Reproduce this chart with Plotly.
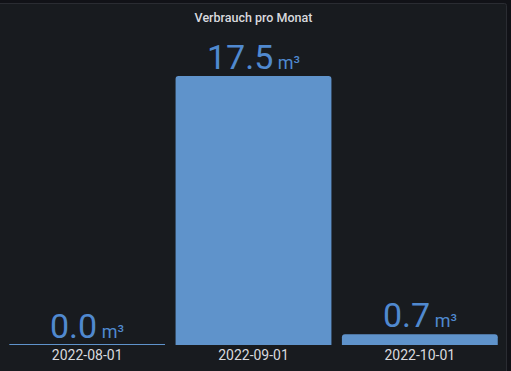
import plotly.graph_objects as go

categories = ["2022-08-01", "2022-09-01", "2022-10-01"]
values = [0.0, 17.5, 0.7]
unit = "m³"
title = "Verbrauch pro Monat"

BAR = "#5f93cb"
TXT = "#5089cf"
LBL = "#d8d9de"
FONT = "Roboto"
W, H = 511, 371
L, R, T, B = 4, 8, 76, 26

def px_x(p):
    return (p - L) / (W - L - R)

def px_y(p):
    return (H - B - p) / (H - T - B)

fig = go.Figure()
fig.add_trace(go.Bar(
    x=categories, y=values,
    marker=dict(color=BAR, line=dict(width=0), cornerradius=3),
    hoverinfo="skip",
))

# baseline for zero-valued bars
for i, v in enumerate(values):
    if v == 0:
        fig.add_shape(type="line", xref="x", yref="y",
                      x0=i - 0.468, x1=i + 0.468,
                      ysizemode="pixel", yanchor=v, y0=0.5, y1=0.5,
                      line=dict(color=BAR, width=1), layer="above")

for c, v in zip(categories, values):
    fig.add_annotation(
        x=c, y=v, xref="x", yref="y", yanchor="bottom", showarrow=False,
        text=f"{v:.1f}<span style='font-size:18px'> {unit}</span>",
        font=dict(family=FONT, size=34, color=TXT, weight=400), yshift=-3,
    )

# panel background
x0, x1 = px_x(-2), px_x(506.5)
y0, y1 = px_y(380), px_y(3.5)
rx = 2 / (W - L - R)
ry = 2 / (H - T - B)
path = (f"M {x0},{y0} L {x0},{y1} L {x1 - rx},{y1} "
        f"Q {x1},{y1} {x1},{y1 - ry} L {x1},{y0} Z")
fig.add_shape(type="path", xref="paper", yref="paper", path=path,
              fillcolor="#181b1f", line=dict(color="#2a2c32", width=1),
              layer="below")

fig.update_layout(
    width=W, height=H,
    margin=dict(l=L, r=R, t=T, b=B),
    paper_bgcolor="#111217", plot_bgcolor="rgba(0,0,0,0)",
    bargap=0.063,
    showlegend=False,
    title=dict(text=title, x=0.5, xref="paper", y=1 - 18 / H, yanchor="middle",
               font=dict(family=FONT, size=12.5, color=LBL, weight=500)),
    xaxis=dict(type="category", showgrid=False, zeroline=False, showline=False,
               ticks="", tickfont=dict(family=FONT, size=14, color=LBL),
               ticklabelstandoff=0, fixedrange=True),
    yaxis=dict(range=[0, 17.5], visible=False, fixedrange=True),
)

fig.write_html("out.html")
